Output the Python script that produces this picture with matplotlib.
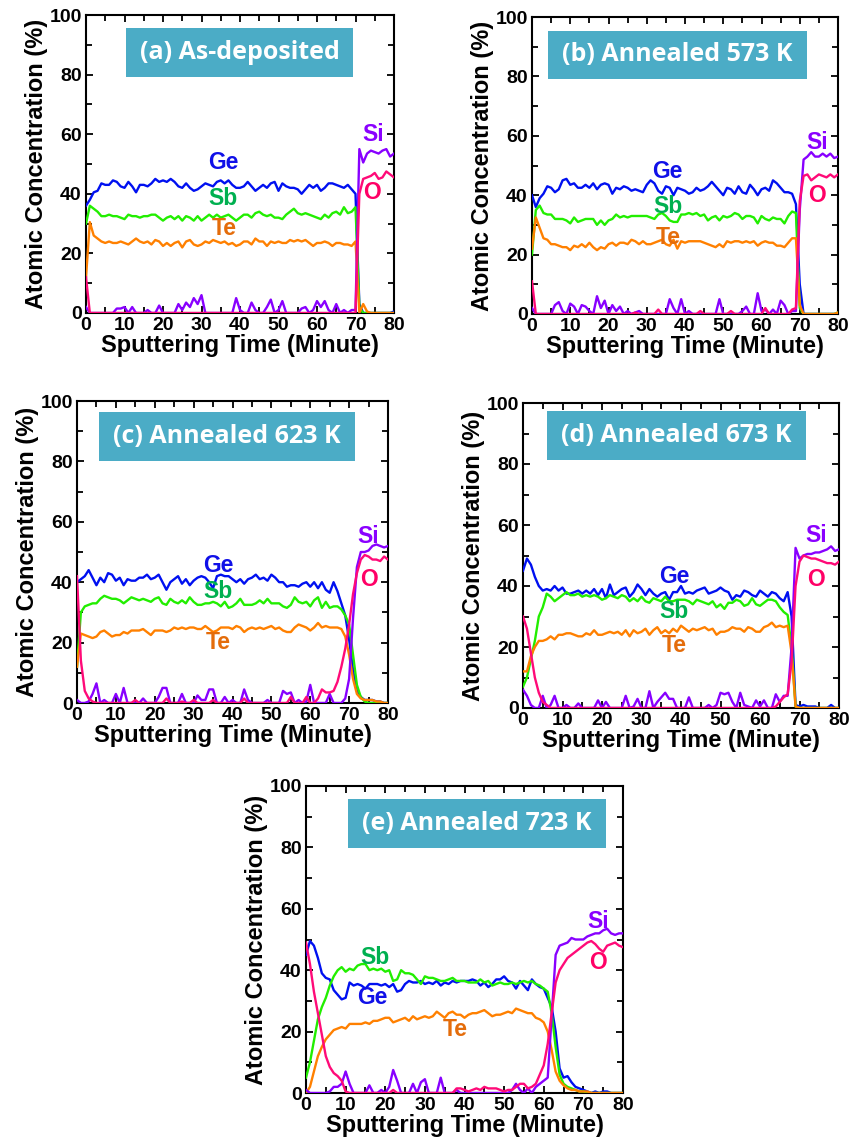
import numpy as np
import matplotlib
matplotlib.use('Agg')
import matplotlib.pyplot as plt
from matplotlib.patches import Rectangle
from matplotlib.ticker import MultipleLocator

plt.rcParams['font.family'] = ['Liberation Sans', 'DejaVu Sans']
plt.rcParams['font.weight'] = 'bold'

# Sputtering time grid (minutes), one reading per minute
TIME = np.arange(0, 81)

# ---------------- (a) As-deposited ----------------
GE_A = [36, 38, 40.5, 41, 43.5, 43, 43, 44.5, 44, 42.5,
        42, 44, 42.5, 40.5, 43, 43, 42.5, 43.5, 45, 44,
        44.5, 44, 45, 44, 42.5, 42, 43.5, 42, 41, 41.5,
        42.5, 43.5, 43, 42.5, 44, 44.5, 43.5, 44.5, 43, 42,
        42, 42.5, 44, 42.5, 41, 42, 43, 42, 43.5, 44,
        41, 43.5, 42.5, 42, 42, 41.5, 40, 41.5, 43, 42,
        43, 41, 42, 43.5, 43.5, 43, 42.5, 42, 43, 41.5,
        40, 3, 0, 0, 0, 0, 0, 0, 0, 0,
        0.5]
SB_A = [30, 36, 35, 34, 32.5, 32.5, 33, 32.5, 32.5, 32,
        31.5, 33, 32.5, 32.5, 32, 32.5, 32.5, 33, 33, 32,
        31, 32, 32.5, 31.5, 32.5, 31, 32.5, 32, 31, 32.5,
        31, 32, 33, 32, 33, 32, 32.5, 33, 32, 31,
        32, 33, 33, 32, 33.5, 34, 33, 32.5, 33, 32,
        32, 31.5, 33, 34, 35, 33.5, 33, 33.5, 33, 32.5,
        32, 31.5, 33, 32, 33.5, 34, 33, 35.5, 33.5, 34,
        35.5, 2, 0, 0, 0, 0, 0, 0, 0, 0,
        0]
TE_A = [12, 30.5, 26, 25, 24, 23.5, 24, 23.5, 23.5, 24,
        23.5, 23, 24, 25, 24, 23.5, 24, 23, 24.5, 24,
        22.5, 23.5, 22.5, 23.5, 24, 22, 24, 24.5, 23, 22.5,
        23, 24, 23.5, 24.5, 24, 23.5, 24, 23, 23.5, 22.5,
        23, 24, 24, 23, 25, 24, 24, 22.5, 24, 23.5,
        24, 23.5, 23.5, 24.5, 24, 24.5, 24, 24.5, 23.5, 22.5,
        23.5, 23.5, 24, 23.5, 22.5, 23.5, 23.5, 23, 23, 22.5,
        24, 0, 3, 0.5, 0, 0, 0, 0, 0, 0,
        0]
SI_A = [2, 0, 0, 0, 0, 0, 0, 0, 1.5, 1.5,
        2, 0, 2, 0, 0, 0, 1, 0, 0, 2.5,
        0, 0, 0, 0, 3, 1, 3.5, 2, 5, 3,
        6, 0, 0, 0, 0, 0, 0, 0, 0, 5,
        1, 0, 0, 3.5, 1, 0, 0, 2, 4.5, 0,
        1, 4, 0, 0, 0, 0, 1.5, 2, 0, 1,
        4, 2, 4, 1, 0, 3, 0, 1, 0, 1,
        1, 55, 50.5, 53.5, 54.5, 54, 53.5, 54.5, 55, 52.5,
        53.5]
O_A = [12, 0, 0, 0, 0, 0, 0, 0, 0, 0,
       0, 0, 0, 0, 0, 0, 0, 0, 0, 0,
       0, 0, 0, 0, 0, 0, 0, 0, 0, 0,
       0, 0, 0, 0, 0, 0, 0, 0, 0, 0,
       0, 0, 0, 0, 0, 0, 0, 0, 0, 0,
       0, 0, 0, 0, 0, 0, 0, 0, 0, 0,
       0, 0, 0, 0, 0, 0, 0, 0, 0, 0,
       0, 40, 45, 45.5, 46, 47, 45, 45.5, 47.5, 46.5,
       45.5]

# ---------------- (b) Annealed 573 K ----------------
GE_B = [40, 36, 39, 40.5, 43, 42.5, 41, 42, 45, 45.5,
        43.5, 44, 42.5, 42.5, 43.5, 42.5, 44, 42, 43.5, 44,
        43.5, 40.5, 42.5, 42, 43, 42.5, 41.5, 42, 41.5, 41,
        43.5, 45, 44, 41.5, 40.5, 43, 42.5, 40, 42.5, 42,
        41.5, 40.5, 41, 42.5, 41.5, 42, 43, 44.5, 43, 41.5,
        40, 42.5, 42, 40.5, 43, 41, 40.5, 43.5, 42, 40,
        42, 42.5, 41.5, 45, 44, 42.5, 41, 41, 40.5, 37,
        10, 0, 0, 0, 0, 0, 0, 0, 0, 0,
        0]
SB_B = [20, 35, 36.5, 34, 33.5, 33.5, 32, 32, 32, 31.5,
        30.5, 32.5, 31, 31.5, 32, 32, 32, 30, 31.5, 30,
        31.5, 32, 33.5, 32.5, 33, 32.5, 33, 33, 33, 33,
        33, 32.5, 32, 33.5, 34, 33, 31.5, 31, 31, 33.5,
        33.5, 34, 33.5, 34, 33, 33.5, 31.5, 32.5, 33, 31.5,
        33, 32.5, 33, 34, 33.5, 32, 33, 33, 32.5, 30.5,
        33, 32, 31.5, 32.5, 32, 32, 30.5, 33, 34.5, 34,
        2, 0, 0, 0, 0, 0, 0, 0, 0, 0,
        0.5]
TE_B = [22, 32.5, 29, 25.5, 25, 23.5, 23.5, 23, 22.5, 22.5,
        21.5, 23, 22.5, 23.5, 22.5, 24, 22.5, 21.5, 22.5, 22,
        23.5, 24, 23, 24, 24, 23.5, 25, 24.5, 23.5, 24.5,
        23.5, 23.5, 24, 24.5, 25, 23.5, 23, 25, 22, 24.5,
        24, 24.5, 24.5, 24.5, 24.5, 24, 23.5, 23, 22.5, 23.5,
        22.5, 24.5, 24, 24.5, 24.5, 24, 24.5, 24, 24.5, 23,
        24, 24.5, 24, 24, 23, 23, 22.5, 24, 25.5, 25.5,
        3, 0, 0, 0, 0, 0, 0, 0, 0, 0,
        0.5]
SI_B = [2, 0, 0, 0, 0, 0, 3, 4, 1, 0,
        3.5, 2.5, 0, 3, 2.5, 1, 0, 6, 2, 4.5,
        0, 3, 1, 2.5, 0, 1, 0, 0.5, 1, 0,
        0, 0, 0, 0, 0, 0, 5, 2, 0, 5,
        0, 1, 0, 0, 0, 0, 0, 0, 0, 5,
        0, 0, 0, 0, 0, 1, 2.5, 0, 0, 7,
        1, 1.5, 0, 1.5, 0, 4.5, 3, 0, 1, 1,
        35, 52, 53, 54.5, 53, 53, 54, 53, 54, 52.5,
        53]
O_B = [11, 0, 0, 0, 0, 0, 0, 0, 0, 0,
       0, 0, 0, 0, 0, 0, 0, 0, 0, 0,
       0, 0, 0, 0, 0, 0, 0, 0.5, 0, 0,
       0, 0, 0, 1.5, 0, 0, 0, 0, 0, 0,
       0, 0, 0, 0, 1, 0, 0, 0, 0, 0,
       0, 0, 1, 0, 0, 0, 0, 0, 0, 0,
       0, 2, 0, 0, 0, 0, 0, 0, 1.5, 2,
       38, 46.5, 47, 45, 46, 47, 46.5, 46, 47, 46,
       47]

# ---------------- (c) Annealed 623 K ----------------
GE_C = [40, 41, 42, 44, 41.5, 39, 41.5, 40, 43, 42.5,
        40.5, 41.5, 39, 41, 40.5, 40.5, 41.5, 41.5, 42.5, 41,
        41.5, 42.5, 40, 37.5, 40, 41, 42, 39.5, 41, 39,
        40.5, 41.5, 42, 41.5, 40, 38, 42, 42.5, 42, 42,
        41, 40, 41, 39.5, 41, 41.5, 42.5, 41, 41.5, 40.5,
        42.5, 41.5, 40, 40, 38.5, 39, 39, 38.5, 39.5, 40,
        38.5, 40, 38, 40, 37.5, 36.5, 40, 37, 33, 29,
        21, 11, 4, 2, 1, 1, 1, 0.5, 0.5, 0,
        0]
SB_C = [12, 30, 32, 32.5, 33, 33, 34.5, 35.5, 35, 34.5,
        34.5, 34, 33, 34, 35, 34.5, 34, 34.5, 34, 33.5,
        34.5, 35, 33, 32.5, 34.5, 33.5, 33, 34, 33, 35,
        33.5, 32.5, 32.5, 33, 33, 33.5, 33, 32, 33.5, 31.5,
        32, 33, 34.5, 32.5, 32.5, 32.5, 33, 34, 33, 34.5,
        33, 33, 33, 32, 31.5, 32.5, 35, 33.5, 33, 33.5,
        32, 34, 35, 31.5, 33.5, 31.5, 32, 32, 31, 29,
        26, 16, 6, 2, 0.5, 0, 0, 0, 0, 0,
        0]
TE_C = [12, 23, 22.5, 22, 21.5, 22, 23.5, 24, 23, 22,
        22.5, 22.5, 23.5, 23, 24, 24, 24, 24.5, 23.5, 22.5,
        24, 24, 24, 23.5, 24, 25, 24.5, 25, 24.5, 25,
        25, 24.5, 24.5, 25.5, 24.5, 23.5, 24, 25, 25, 25,
        24.5, 25.5, 25, 23.5, 24.5, 25, 24.5, 25, 24.5, 25,
        25.5, 24.5, 25, 24, 23.5, 23.5, 25, 26, 25.5, 25,
        24, 25, 26.5, 25, 25.5, 25, 25, 25, 24.5, 22,
        16, 8, 3, 1.5, 1, 1, 1, 0.5, 0.5, 0,
        0]
SI_C = [1, 0, 0, 0.5, 3, 6.5, 0, 1, 0, 0,
        3, 0, 5, 0, 0, 0, 0, 1.5, 0, 0,
        0, 2, 5, 5, 0, 0, 0, 3, 0, 0,
        0, 2.5, 1, 1, 4.5, 4.5, 0, 0, 2, 0,
        1, 0, 0, 4.5, 1, 0, 0, 0, 0, 1,
        0, 0, 0, 4, 3, 3.5, 0, 1, 0, 0.5,
        6, 0, 0, 0, 0, 3, 0, 0, 0, 1.5,
        8, 28, 45, 50, 50, 50.5, 52, 52.5, 52, 51.5,
        52]
O_C = [42, 14, 4, 1.5, 0.5, 0, 0, 0, 0, 0,
       0, 0, 0, 0, 0, 1, 0, 0, 0, 0,
       0, 0, 0, 1.5, 0, 0, 0, 0.5, 0, 0,
       1, 0, 0, 0, 0, 1, 0, 0, 0, 0,
       0, 0, 0, 1.5, 0, 0, 0, 0, 0, 0,
       0, 0, 0, 0, 0, 2, 0, 0, 0, 2,
       0, 0, 1.5, 4.5, 3.5, 3.5, 4, 7, 12, 18,
       26, 36, 43, 47.5, 49, 48.5, 47.5, 47.5, 47, 48.5,
       47.5]

# ---------------- (d) Annealed 673 K ----------------
GE_D = [45, 49, 47, 43, 40, 38.5, 39, 38.5, 40, 38.5,
        39.5, 37.5, 37.5, 38, 38.5, 37.5, 38.5, 37.5, 39, 37,
        39, 36, 40.5, 37, 38, 39, 39.5, 36.5, 38, 40.5,
        39, 37, 39, 37.5, 36.5, 37.5, 38, 35.5, 38, 38,
        40, 37.5, 38, 37.5, 38.5, 39, 39.5, 37.5, 38, 38.5,
        39.5, 38.5, 38, 35.5, 37, 36.5, 38.5, 38, 37, 36.5,
        38.5, 37.5, 36.5, 38, 37.5, 36, 35, 38, 30, 1,
        0.5, 1, 0.5, 0.5, 0.5, 0, 0, 0, 1, 0,
        0]
SB_D = [7, 10, 16, 22, 30, 33, 37.5, 36.5, 35, 36,
        37, 38, 37, 37, 37.5, 36.5, 37, 36.5, 37, 36.5,
        35.5, 36, 37, 36.5, 36, 37, 36.5, 35, 36, 35,
        36.5, 35, 34.5, 36, 35.5, 35, 36.5, 35, 35, 35.5,
        35.5, 35.5, 35, 34, 35.5, 35, 34.5, 34, 35, 33,
        34, 32.5, 34.5, 34.5, 35.5, 35, 33.5, 34, 36, 34,
        33.5, 34.5, 35.5, 35.5, 35, 33, 31.5, 30.5, 20, 0.5,
        0, 0, 0, 0, 0, 0, 0, 0, 0, 0,
        0]
TE_D = [12, 12, 17, 20, 22, 22, 22.5, 23.5, 22.5, 24,
        24, 24.5, 24.5, 24, 23.5, 23.5, 24.5, 24, 25.5, 24,
        24, 24.5, 25, 24.5, 25, 24, 25.5, 23.5, 25.5, 24.5,
        25, 26, 24, 25.5, 26.5, 24.5, 25.5, 24.5, 26, 25,
        27, 26, 25, 26, 25.5, 26, 26.5, 25.5, 26, 24,
        25, 25, 25.5, 26.5, 26, 26, 25, 26.5, 26, 25,
        25, 26.5, 27, 28, 26.5, 27, 26.5, 27, 18, 0.5,
        0, 0, 0, 0, 0, 0, 0, 0, 0, 0,
        0]
SI_D = [6, 4, 1, 0, 0, 4, 0, 1, 4, 0,
        0, 1, 0, 0, 1.5, 0, 0, 0, 0, 2.5,
        0, 2, 0, 0, 0, 0, 4, 0, 0.5, 3,
        0, 0, 5.5, 0, 2, 3.5, 5, 3, 3, 0,
        0, 0, 3.5, 0, 0, 0, 0, 1, 0, 1,
        5, 4.5, 5, 2, 0, 5, 1, 0.5, 0, 2.5,
        0.5, 2.5, 0, 0, 4.5, 2, 4, 4, 20, 52.5,
        49, 50, 50.5, 50.5, 51, 51, 51.5, 52, 53, 51.5,
        52]
O_D = [30, 26, 18, 10, 5, 2, 1, 0, 0, 0,
       0, 0, 0, 0, 0, 0, 0, 0, 0, 0,
       0, 0, 0, 0, 0, 0, 0, 0, 0, 0,
       0, 0, 0, 0, 0, 0, 0, 0, 0, 0,
       0, 0, 0, 0, 0, 0, 0, 0, 0, 0,
       0, 0, 0, 0, 0, 0, 0, 0, 0, 0,
       0, 0, 0, 0, 0.5, 2, 3.5, 4.5, 15, 40,
       48, 50, 49.5, 49, 49, 48.5, 48, 47.5, 47.5, 47,
       48]

# ---------------- (e) Annealed 723 K ----------------
GE_E = [45, 49.5, 48, 44, 39, 37.5, 37, 33.5, 32, 30.5,
        31, 36, 35, 35.5, 35, 34, 35.5, 35.5, 35.5, 35,
        35.5, 34.5, 35.5, 33, 33.5, 35.5, 36.5, 36, 36, 36.5,
        35.5, 36, 35.5, 36.5, 35, 36, 35.5, 36.5, 36, 36.5,
        36.5, 36.5, 37, 36.5, 35, 36, 34.5, 35.5, 37, 37,
        38, 36.5, 36, 34, 36.5, 35, 33.5, 37, 35.5, 34.5,
        34, 31, 28, 20, 8, 5, 5.5, 3.5, 2, 1.5,
        1, 0.5, 0, 0.5, 0, 0.5, 0.5, 0, 0, 0,
        0]
SB_E = [5, 10, 17, 24, 28, 31, 35, 38, 40, 41,
        39.5, 40.5, 40, 41.5, 42, 42, 40, 40.5, 40, 40.5,
        39.5, 40, 36.5, 37, 40, 39, 39, 38.5, 37, 35.5,
        38, 37.5, 37.5, 37, 36.5, 36.5, 37, 37.5, 36.5, 36.5,
        36.5, 36, 36, 36, 37, 36, 36.5, 35, 35.5, 36,
        35.5, 35.5, 36, 35.5, 36, 36.5, 36, 36.5, 35.5, 35,
        34, 33, 26, 15, 6, 3, 2, 1.5, 1, 0.5,
        0.5, 0, 0, 0, 0, 0, 0, 0, 0, 0,
        0]
TE_E = [0, 2, 7, 12, 15, 17.5, 19, 20.5, 21, 21.5,
        21, 22.5, 22.5, 22.5, 22.5, 23, 22.5, 23.5, 23.5, 24,
        24.5, 24.5, 23, 23.5, 24, 24.5, 23.5, 25, 24, 24.5,
        25, 24.5, 25, 26.5, 25.5, 24.5, 26, 26.5, 25.5, 25.5,
        24.5, 25.5, 26, 26, 26.5, 27, 26, 25, 25.5, 25.5,
        26, 26.5, 26, 27.5, 27, 26.5, 26, 26, 24.5, 24,
        23, 20, 14, 7, 4, 2.5, 1.5, 1, 1, 0.5,
        0.5, 0.5, 0, 0, 0, 0, 0, 0, 0, 0,
        0]
SI_E = [1, 0, 0, 0, 0, 0, 0.5, 2, 2, 3,
        7, 3, 0, 0, 0, 0, 2.5, 0, 0, 1,
        0, 2, 7.5, 4, 0, 0, 0, 3, 0, 3.5,
        4.5, 0, 0, 0, 5, 0, 0, 0, 1, 0,
        0, 0, 0, 0, 0, 0, 0, 0, 0, 0,
        0, 0, 1, 3, 1, 0, 1.5, 0, 2, 3,
        4, 5, 25, 45, 48, 48.5, 49, 50.5, 50, 50,
        50, 51, 51.5, 52, 52, 53, 53.5, 52, 51.5, 52,
        52]
O_E = [49, 42, 33, 26, 19, 12, 8.5, 6.5, 5.5, 4,
       0.5, 0, 0, 0, 0, 0, 0, 0, 0, 0,
       0, 0, 1, 0, 0, 0, 0, 0, 0, 0,
       0, 0, 0, 0, 0, 0, 0, 0, 1.5, 1.5,
       1, 0.5, 1, 1.5, 1, 2, 1.5, 1.5, 1.5, 1,
       0.5, 1, 1, 2, 3, 3, 1.5, 2, 3, 6,
       9, 16, 26, 36, 40, 42, 44, 45, 46, 47,
       48, 49, 49.5, 48.5, 47, 46, 48, 48.5, 49, 48,
       47.5]

TITLES = ['(a) As-deposited', '(b) Annealed 573 K', '(c) Annealed 623 K',
          '(d) Annealed 673 K', '(e) Annealed 723 K']
ELEMENTS = ['Ge', 'Sb', 'Te', 'Si', 'O']

# label anchor points (minute, %) for the element names in each panel
LABEL_POS = [
    [(35.7, 50.4), (35.7, 38.3), (35.8, 28.2), (74.6, 59.9), (74.3, 40.5)],
    [(35.5, 48.0), (35.5, 36.2), (35.6, 25.9), (74.5, 57.6), (74.5, 39.8)],
    [(36.3, 45.5), (36.3, 37.0), (36.3, 19.9), (75.0, 55.2), (75.0, 40.8)],
    [(38.2, 43.2), (38.2, 31.6), (38.2, 20.4), (74.3, 56.6), (74.3, 42.2)],
    [(16.8, 31.2), (17.3, 44.0), (37.7, 20.7), (73.7, 56.0), (73.7, 42.4)],
]

LINE_COLORS = {'Ge': '#0010f0', 'Sb': '#22ee00', 'Te': '#ff8000',
               'Si': '#8800ff', 'O': '#ff0a78'}
TEXT_COLORS = {'Ge': '#1010e8', 'Sb': '#00b050', 'Te': '#e46c0a',
               'Si': '#8a00ff', 'O': '#ff0066'}

PANELS = [
    [GE_A, SB_A, TE_A, SI_A, O_A],
    [GE_B, SB_B, TE_B, SI_B, O_B],
    [GE_C, SB_C, TE_C, SI_C, O_C],
    [GE_D, SB_D, TE_D, SI_D, O_D],
    [GE_E, SB_E, TE_E, SI_E, O_E],
]

# axes boxes in pixels: left, top, right, bottom
AX_PX = [(86, 15, 394, 313), (532, 17, 838, 314), (77, 401, 388, 703),
         (523, 403, 839, 708), (306, 786, 623, 1093)]
# title box in axes fractions: x0, x1, y0, y1
BOX = [(0.130, 0.867, 0.792, 0.956), (0.052, 0.899, 0.791, 0.954),
       (0.071, 0.894, 0.801, 0.964), (0.076, 0.896, 0.813, 0.974),
       (0.132, 0.946, 0.798, 0.958)]

W, H = 850, 1146
fig = plt.figure(figsize=(W / 100, H / 100), dpi=100)

for i, series in enumerate(PANELS):
    l, t, r, b = AX_PX[i]
    ax = fig.add_axes([l / W, 1 - b / H, (r - l) / W, (b - t) / H])
    for name, vals in zip(ELEMENTS, series):
        ax.plot(TIME, vals, color=LINE_COLORS[name], lw=1.7, zorder=3)
    for name, (x, y) in zip(ELEMENTS, LABEL_POS[i]):
        ax.text(x, y, name, color=TEXT_COLORS[name], fontsize=16.5,
                fontweight='bold', ha='center', va='center', zorder=5)

    x0, x1, y0, y1 = BOX[i]
    ax.add_patch(Rectangle((x0, y0), x1 - x0, y1 - y0, transform=ax.transAxes,
                           facecolor='#4bacc6', edgecolor='none', zorder=4))
    ax.text((x0 + x1) / 2, (y0 + y1) / 2, TITLES[i], transform=ax.transAxes,
            ha='center', va='center', color='white', fontsize=18,
            fontweight='bold', family='Open Sans', zorder=6)

    ax.set_xlim(0, 80)
    ax.set_ylim(0, 100)
    ax.xaxis.set_major_locator(MultipleLocator(10))
    ax.xaxis.set_minor_locator(MultipleLocator(5))
    ax.yaxis.set_major_locator(MultipleLocator(20))
    ax.yaxis.set_minor_locator(MultipleLocator(10))
    ax.tick_params(which='both', direction='in', top=True, right=True,
                   width=1.3, labelsize=14, pad=3)
    ax.tick_params(which='major', length=5)
    ax.tick_params(which='minor', length=4)
    for lab in ax.get_xticklabels() + ax.get_yticklabels():
        lab.set_fontweight('bold')
    for sp in ax.spines.values():
        sp.set_linewidth(1.5)
    ax.set_xlabel('Sputtering Time (Minute)', fontsize=17, fontweight='bold',
                  labelpad=0)
    ax.set_ylabel('Atomic Concentration (%)', fontsize=17, fontweight='bold',
                  labelpad=1)

fig.savefig('out.png', dpi=100)
